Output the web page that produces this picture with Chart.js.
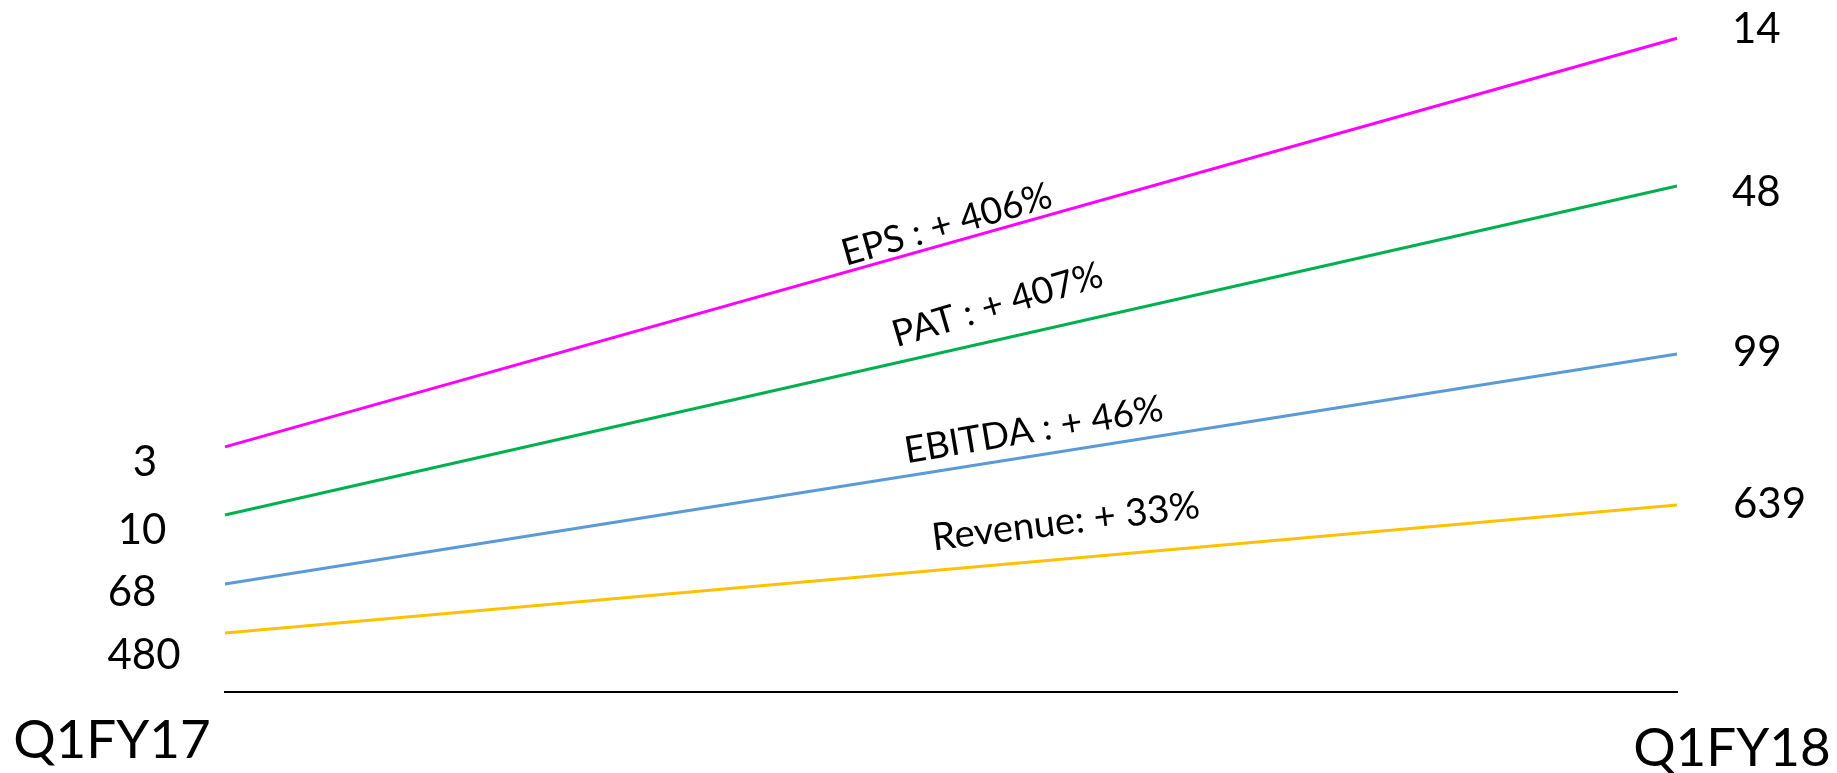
<!DOCTYPE html>
<html>
<head>
<meta charset="utf-8">
<script src="https://cdn.jsdelivr.net/npm/chart.js@4/dist/chart.umd.min.js"></script>
<style>
html, body { margin: 0; padding: 0; background: #ffffff; }
#wrap { width: 1837px; height: 773px; position: relative; }
</style>
</head>
<body>
<div id="wrap"><canvas id="c"></canvas></div>
<script>
// ---- data ----
const categories = ['Q1FY17', 'Q1FY18'];
const seriesNames = ['EPS', 'PAT', 'EBITDA', 'Revenue'];
const epsValues = [3, 14];
const patValues = [10, 48];
const ebitdaValues = [68, 99];
const revenueValues = [480, 639];
const growthLabels = ['EPS : + 406%', 'PAT : + 407%', 'EBITDA : + 46%', 'Revenue: + 33%'];

const FONT = 'Lato, "Open Sans", sans-serif';

// styling for the annotations (not data)
const labelStyle = {
  leftDx:  [-80, -83, -93, -81],
  leftDy:  [16, 15, 8, 22],
  rightDx: [55, 55, 56, 56],
  rightDy: [-9, 6, -2, -1],
  growthFrac:  [0.497, 0.532, 0.557, 0.579],
  growthAbove: [19, 35, 26, 37],
  growthAngle: [-16, -16.5, -9.5, -7],
  growthSize:  [37, 37, 37, 38]
};

const annotatePlugin = {
  id: 'annotate',
  afterDatasetsDraw(chart) {
    const ctx = chart.ctx;
    ctx.save();
    ctx.fillStyle = '#000000';
    chart.data.datasets.forEach((ds, i) => {
      const meta = chart.getDatasetMeta(i);
      const p0 = meta.data[0], p1 = meta.data[1];
      // values at the ends
      ctx.font = '42px ' + FONT;
      ctx.textBaseline = 'middle';
      ctx.textAlign = 'center';
      ctx.fillText(String(ds.data[0]), p0.x + labelStyle.leftDx[i], p0.y + labelStyle.leftDy[i]);
      ctx.textAlign = 'left';
      ctx.fillText(String(ds.data[1]), p1.x + labelStyle.rightDx[i], p1.y + labelStyle.rightDy[i]);
      // growth text
      const f = labelStyle.growthFrac[i];
      const gx = p0.x + f * (p1.x - p0.x);
      const gy = p0.y + f * (p1.y - p0.y) - labelStyle.growthAbove[i];
      ctx.save();
      ctx.translate(gx, gy);
      ctx.rotate(labelStyle.growthAngle[i] * Math.PI / 180);
      ctx.font = labelStyle.growthSize[i] + 'px ' + FONT;
      ctx.textAlign = 'center';
      ctx.textBaseline = 'middle';
      ctx.fillText(growthLabels[i], 0, 0);
      ctx.restore();
    });
    // category labels
    const xs = chart.scales.x;
    ctx.font = '53px ' + FONT;
    ctx.textBaseline = 'middle';
    ctx.textAlign = 'center';
    ctx.fillText(categories[0], xs.getPixelForValue(0) - 113, 741);
    ctx.fillText(categories[1], xs.getPixelForValue(1) + 55, 749);
    ctx.restore();
  }
};

const colors = ['#FF00FF', '#00B050', '#5B9BD5', '#FFC000'];
const allValues = [epsValues, patValues, ebitdaValues, revenueValues];
const axisIds = ['yEps', 'yPat', 'yEbitda', 'yRev'];

new Chart(document.getElementById('c'), {
  type: 'line',
  data: {
    labels: categories,
    datasets: seriesNames.map((n, i) => ({
      label: n,
      data: allValues[i],
      borderColor: colors[i],
      backgroundColor: colors[i],
      borderWidth: 3,
      pointRadius: 0,
      tension: 0,
      yAxisID: axisIds[i],
      clip: false
    }))
  },
  options: {
    responsive: true,
    maintainAspectRatio: false,
    animation: false,
    layout: { padding: { left: 225, right: 160, top: 20, bottom: 81 } },
    plugins: { legend: { display: false }, tooltip: { enabled: false } },
    scales: {
      x: {
        type: 'category',
        offset: false,
        grid: { display: false, drawTicks: false },
        ticks: { display: false },
        border: { display: true, color: '#000000', width: 2 }
      },
      yEps:    { display: false, min: -3.6,  max: 14.49 },
      yPat:    { display: false, min: -10.44, max: 67.17 },
      yEbitda: { display: false, min: 53.45, max: 144.02 },
      yRev:    { display: false, min: 406.7, max: 1241.3 }
    }
  },
  plugins: [annotatePlugin]
});
</script>
</body>
</html>
